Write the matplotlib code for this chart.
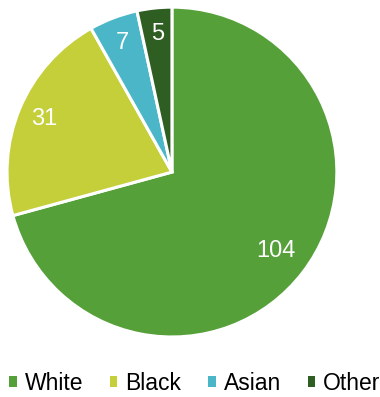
import matplotlib.pyplot as plt
from matplotlib.patches import Patch

plt.rcParams['font.family'] = ['Liberation Sans', 'DejaVu Sans']

races = ['White', 'Black', 'Asian', 'Other']
counts = [104, 31, 7, 5]
colors = ['#56a03a', '#c4cf3a', '#4bb6c8', '#2f5e22']

fig = plt.figure(figsize=(3.8, 3.97), dpi=100)
ax = fig.add_axes([0.0185, 0.1511, 0.868, 0.831])

wedges, texts, autotexts = ax.pie(
    counts, colors=colors, startangle=90, counterclock=False,
    autopct=lambda p: '{:.0f}'.format(p * sum(counts) / 100),
    pctdistance=0.84, radius=1.0,
    wedgeprops=dict(edgecolor='white', linewidth=2.2),
    textprops=dict(color='white', fontsize=17))
# largest slice label sits a bit closer to the centre
x, y = autotexts[0].get_position()
autotexts[0].set_position((x * 0.79 / 0.84, y * 0.79 / 0.84))
ax.set_aspect('equal')
ax.set_xlim(-1.0, 1.0)
ax.set_ylim(-1.0, 1.0)

handles = [Patch(facecolor=c, edgecolor='none') for c in colors]
fig.legend(handles, races, loc='center', bbox_to_anchor=(0.513, 0.035),
           ncol=4, frameon=False, fontsize=16.5, handlelength=0.32,
           handleheight=0.32, handletextpad=0.35, columnspacing=1.18,
           borderpad=0, borderaxespad=0)

fig.savefig('out.png', dpi=100)
